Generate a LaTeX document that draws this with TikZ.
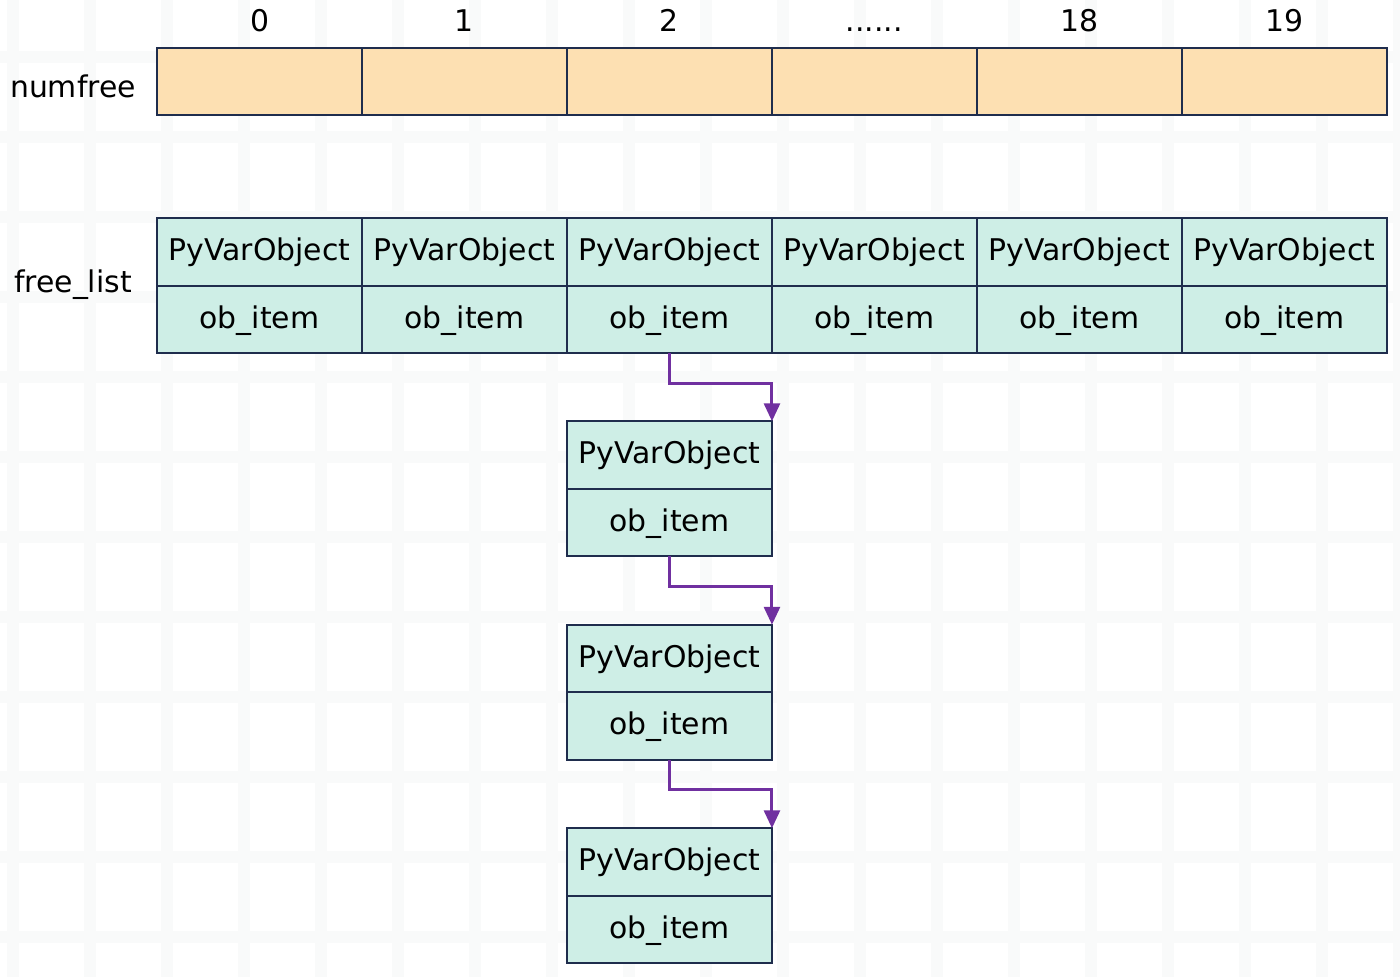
\documentclass[tikz,border=0pt]{standalone}
\usepackage{fontspec}
\setmainfont{DejaVu Sans}
\usetikzlibrary{arrows.meta, positioning}
\definecolor{cellline}{RGB}{31,45,77}
\definecolor{peach}{RGB}{253,224,178}
\definecolor{mint}{RGB}{206,238,230}
\definecolor{linkpurple}{RGB}{112,48,160}
\definecolor{gridgray}{RGB}{249,250,250}

\begin{document}
\begin{tikzpicture}[
    x=0.02cm, y=-0.02cm,
    node distance=0pt,
    cell/.style={rectangle, draw=cellline, line width=1pt, minimum width=4.1cm,
                 minimum height=1.35cm, inner sep=0pt, outer sep=0pt,
                 text height=12pt, text depth=2pt,
                 font=\fontsize{17}{20}\selectfont},
    numcell/.style={cell, fill=peach},
    objcell/.style={cell, fill=mint},
    tag/.style={inner sep=0pt, font=\fontsize{17}{20}\selectfont},
    link/.style={-{Triangle[length=3.6mm, width=3.2mm]}, line width=1.7pt, linkpurple}
]
\useasboundingbox (0,0) rectangle (1400,977);

% faint background grid
\foreach \gx in {0,...,18}
  \draw[gridgray, line width=0.25cm] (13+77*\gx,0) -- (13+77*\gx,977);
\foreach \gy in {0,...,12}
  \draw[gridgray, line width=0.25cm] (0,57+80*\gy) -- (1400,57+80*\gy);

% numfree row
\node[numcell] (nf0) at (259.5,81.5) {};
\foreach \i [evaluate=\i as \j using int(\i-1)] in {1,...,5}
  \node[numcell, right=of nf\j] (nf\i) {};
\foreach \i/\t in {0/0, 1/1, 2/2, 3/{......}, 4/18, 5/19}
  \node[tag, above=9pt of nf\i] (idx\i) {\t};
\node[tag] (numlbl) at (73,86) {numfree};

% free_list row
\node[objcell] (po0) at (259.5,252) {PyVarObject};
\node[objcell, below=of po0] (ob0) {ob\_item};
\foreach \i [evaluate=\i as \j using int(\i-1)] in {1,...,5} {
  \node[objcell, right=of po\j] (po\i) {PyVarObject};
  \node[objcell, below=of po\i] (ob\i) {ob\_item};
}
\node[tag] (fllbl) at (73,285) {free\_list};

% chained objects
\node[objcell] (c1p) at (669.5,455) {PyVarObject};
\node[objcell, below=of c1p] (c1o) {ob\_item};
\node[objcell] (c2p) at (669.5,658.5) {PyVarObject};
\node[objcell, below=of c2p] (c2o) {ob\_item};
\node[objcell] (c3p) at (669.5,862) {PyVarObject};
\node[objcell, below=of c3p] (c3o) {ob\_item};

\draw[link] (ob2.south) -- ++(0,30) -| (c1p.north east);
\draw[link] (c1o.south) -- ++(0,30) -| (c2p.north east);
\draw[link] (c2o.south) -- ++(0,30) -| (c3p.north east);

\end{tikzpicture}
\end{document}
